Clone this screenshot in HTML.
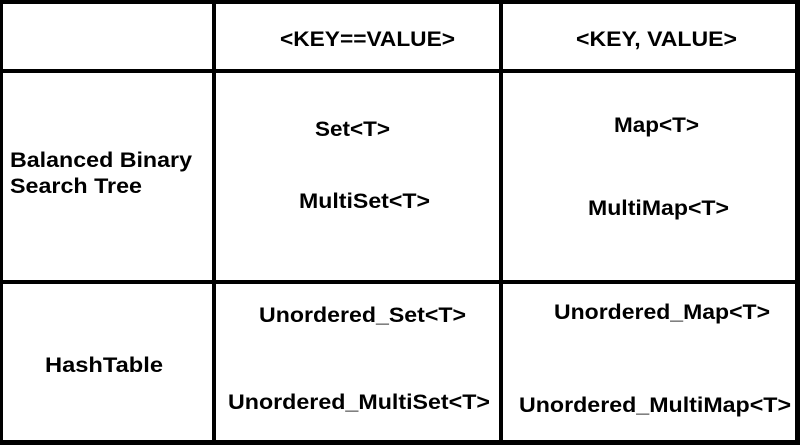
<!DOCTYPE html>
<html><head><style>html,body{margin:0;padding:0;background:#fff}</style></head>
<body>
<svg width="803" height="445" xmlns="http://www.w3.org/2000/svg" style="display:block">
<rect width="803" height="445" fill="#fff"/>
<g fill="#000">
<rect x="0" y="0" width="800" height="4"/>
<rect x="0" y="69" width="800" height="4"/>
<rect x="0" y="280" width="800" height="4"/>
<rect x="0" y="440" width="800" height="5"/>
<rect x="0" y="0" width="3" height="445"/>
<rect x="212" y="0" width="4" height="445"/>
<rect x="499" y="0" width="4" height="445"/>
<rect x="795" y="0" width="5" height="445"/>
</g>
<g font-family="Liberation Sans, Arial, sans-serif" font-weight="bold" font-size="21" fill="#000">
<text x="280" y="46" textLength="175" lengthAdjust="spacingAndGlyphs">&lt;KEY==VALUE&gt;</text>
<text x="576" y="46" textLength="161" lengthAdjust="spacingAndGlyphs">&lt;KEY, VALUE&gt;</text>
<text x="10" y="167" textLength="182" lengthAdjust="spacingAndGlyphs">Balanced Binary</text>
<text x="10" y="193" textLength="132" lengthAdjust="spacingAndGlyphs">Search Tree</text>
<text x="315" y="136" textLength="75" lengthAdjust="spacingAndGlyphs">Set&lt;T&gt;</text>
<text x="299" y="208" textLength="131" lengthAdjust="spacingAndGlyphs">MultiSet&lt;T&gt;</text>
<text x="614" y="132" textLength="85" lengthAdjust="spacingAndGlyphs">Map&lt;T&gt;</text>
<text x="588" y="215" textLength="141" lengthAdjust="spacingAndGlyphs">MultiMap&lt;T&gt;</text>
<text x="45" y="372" textLength="118" lengthAdjust="spacingAndGlyphs">HashTable</text>
<text x="259" y="322" textLength="207" lengthAdjust="spacingAndGlyphs">Unordered_Set&lt;T&gt;</text>
<text x="228" y="409" textLength="262" lengthAdjust="spacingAndGlyphs">Unordered_MultiSet&lt;T&gt;</text>
<text x="554" y="319" textLength="216" lengthAdjust="spacingAndGlyphs">Unordered_Map&lt;T&gt;</text>
<text x="519" y="412" textLength="272" lengthAdjust="spacingAndGlyphs">Unordered_MultiMap&lt;T&gt;</text>
</g>
</svg>
</body></html>
